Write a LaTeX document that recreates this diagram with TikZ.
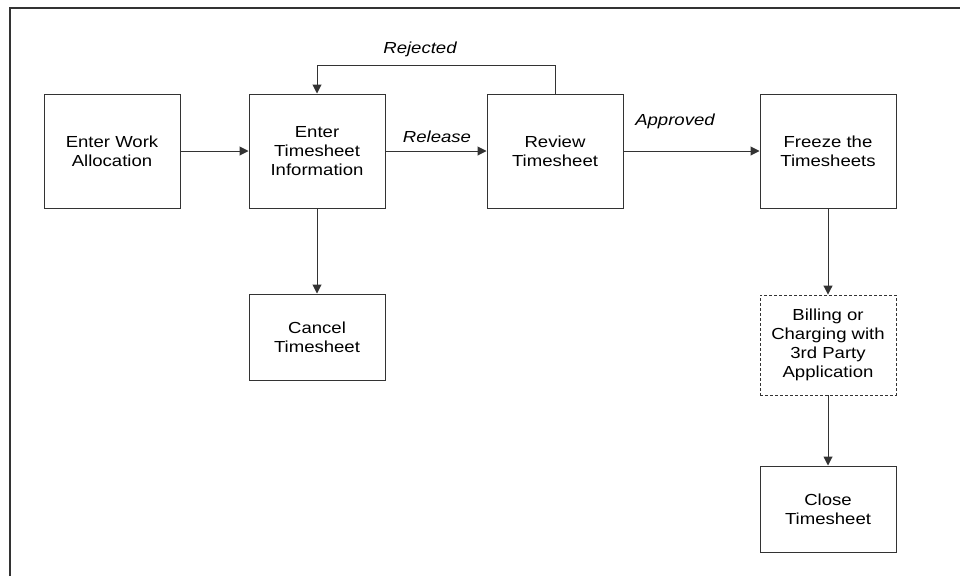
\documentclass[tikz,border=0pt]{standalone}
\usepackage{fontspec}
\setmainfont{Liberation Sans}[FakeStretch=1.16]
\usetikzlibrary{arrows.meta}
\definecolor{linegray}{HTML}{333333}
\tikzset{
  procbox/.style={draw=linegray, line width=1pt, minimum width=136pt, align=center,
    font=\fontsize{16}{19}\selectfont, inner sep=0pt},
  flow/.style={draw=linegray, line width=1pt, -{Triangle[length=9pt,width=9pt]}},
  lbl/.style={font=\fontsize{16}{19}\selectfont\itshape, inner sep=0pt}
}
\begin{document}
\begin{tikzpicture}[x=1pt,y=-1pt]
\useasboundingbox (0,0) rectangle (960,576);
\draw[linegray, line width=2pt] (10,576) -- (10,8) -- (960,8);
\node[procbox, minimum height=114pt] (wa) at (112,151) {Enter Work\\Allocation};
\node[procbox, minimum height=114pt] (ti) at (317,151) {Enter\\Timesheet\\Information};
\node[procbox, minimum height=114pt] (rv) at (555,151) {Review\\Timesheet};
\node[procbox, minimum height=114pt] (fz) at (828,151) {Freeze the\\Timesheets};
\node[procbox, minimum height=86pt] (ct) at (317,337) {Cancel\\Timesheet};
\node[procbox, minimum height=100pt, dashed, dash pattern=on 3pt off 2pt, line width=0.9pt] (bl) at (828,345) {Billing or\\Charging with\\3rd Party\\Application};
\node[procbox, minimum height=86pt] (cl) at (828,509) {Close\\Timesheet};
\coordinate (rtop) at (555,65);
\coordinate (ttop) at (317,65);
\draw[flow] (wa.east) -- (ti.west);
\draw[flow] (ti.east) -- (rv.west);
\draw[flow] (rv.east) -- (fz.west);
\draw[flow] (ti.south) -- (ct.north);
\draw[flow] (fz.south) -- (bl.north);
\draw[flow] (bl.south) -- (cl.north);
\draw[flow] (rv.north) -- (rtop) -- (ttop) -- (ti.north);
\node[lbl] (lrej) at (420,49) {Rejected};
\node[lbl] (lrel) at (437,137) {Release};
\node[lbl] (lapp) at (675,121) {Approved};
\end{tikzpicture}
\end{document}
